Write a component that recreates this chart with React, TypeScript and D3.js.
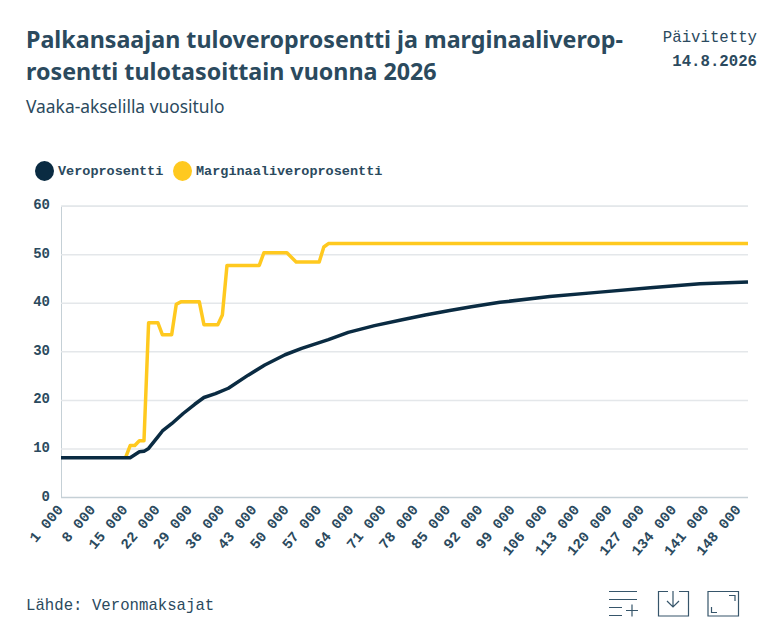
import { useEffect, useRef } from "react";
import * as d3 from "d3";

const WIDTH = 778;
const HEIGHT = 633;

const TITLE_LINES = [
  "Palkansaajan tuloveroprosentti ja marginaaliverop-",
  "rosentti tulotasoittain vuonna 2026",
];
const SUBTITLE = "Vaaka-akselilla vuositulo";
const SOURCE = "Lähde: Veronmaksajat";
const UPDATED_LABEL = "Päivitetty";
const UPDATED_DATE = "14.8.2026";

const SERIES_NAMES = ["Veroprosentti", "Marginaaliveroprosentti"];
const SERIES_COLORS = ["#0a2b42", "#ffc91f"];

const yTicks = [0, 10, 20, 30, 40, 50, 60];
const xTicks = [
  1000, 8000, 15000, 22000, 29000, 36000, 43000, 50000, 57000, 64000, 71000,
  78000, 85000, 92000, 99000, 106000, 113000, 120000, 127000, 134000, 141000,
  148000,
];

// Values (income, percent)
const taxIncome = [
  1000, 16000, 18000, 19000, 20000, 22000, 23000, 25000, 27500, 30000, 32000,
  34500, 37300, 41600, 45200, 49600, 53200, 59000, 63300, 69000, 75000, 80000,
  85300, 90000, 96200, 107000, 117900, 128800, 139600, 150000,
];
const taxRate = [
  8.1, 8.1, 9.3, 9.4, 10, 12.4, 13.6, 15.1, 17.2, 19.1, 20.5, 21.3, 22.4, 25.1,
  27.2, 29.3, 30.6, 32.4, 33.9, 35.3, 36.5, 37.5, 38.4, 39.2, 40.1, 41.3, 42.2,
  43.1, 43.9, 44.3,
];
const marginalIncome = [
  15000, 16000, 17000, 18000, 19000, 20000, 22000, 23000, 25000, 26000, 27000,
  31000, 32000, 35000, 36000, 37000, 44000, 45000, 50000, 52000, 57000, 58000,
  59000, 150000,
];
const marginalRate = [
  8.1, 10.6, 10.6, 11.6, 11.6, 35.9, 35.9, 33.4, 33.4, 39.7, 40.2, 40.2, 35.5,
  35.5, 37.5, 47.7, 47.7, 50.3, 50.3, 48.4, 48.4, 51.5, 52.2, 52.2,
];

const SANS = "'Noto Sans', sans-serif";
const MONO = "'Liberation Mono', monospace";
const TEXT = "#2b4a5e";
const GRID = "#e4e7ea";
const AXIS = "#c5d0d6";

const margin = { top: 205.7, right: 30, bottom: 136, left: 61 };

export default function App() {
  const ref = useRef<SVGSVGElement | null>(null);

  useEffect(() => {
    const svg = d3.select(ref.current);
    svg.selectAll("*").remove();

    const x = d3
      .scaleLinear()
      .domain([1000, 150000])
      .range([margin.left, WIDTH - margin.right]);
    const y = d3
      .scaleLinear()
      .domain([0, 60])
      .range([HEIGHT - margin.bottom, margin.top]);

    // Heading
    TITLE_LINES.forEach((t, i) => {
      svg
        .append("text")
        .attr("x", 26)
        .attr("y", 48 + i * 32)
        .attr("font-family", SANS)
        .attr("font-weight", 700)
        .attr("font-size", 23.25)
        .attr("fill", TEXT)
        .text(t);
    });
    svg
      .append("text")
      .attr("x", 26)
      .attr("y", 113)
      .attr("font-family", SANS)
      .attr("font-size", 17.4)
      .attr("fill", TEXT)
      .text(SUBTITLE);
    svg
      .append("text")
      .attr("x", 757)
      .attr("y", 42)
      .attr("text-anchor", "end")
      .attr("font-family", MONO)
      .attr("font-size", 15.7)
      .attr("fill", TEXT)
      .text(UPDATED_LABEL);
    svg
      .append("text")
      .attr("x", 757)
      .attr("y", 66)
      .attr("text-anchor", "end")
      .attr("font-family", MONO)
      .attr("font-weight", 700)
      .attr("font-size", 15.7)
      .attr("fill", TEXT)
      .text(UPDATED_DATE);

    // Legend
    const legendX = [44.5, 182.5];
    SERIES_NAMES.forEach((name, i) => {
      svg
        .append("ellipse")
        .attr("cx", legendX[i])
        .attr("cy", 171)
        .attr("rx", 9.5)
        .attr("ry", 10)
        .attr("fill", SERIES_COLORS[i]);
      svg
        .append("text")
        .attr("x", legendX[i] + 13.5)
        .attr("y", 175)
        .attr("font-family", MONO)
        .attr("font-weight", 700)
        .attr("font-size", 13.5)
        .attr("fill", TEXT)
        .text(name);
    });

    // Y axis and grid
    const yAxis = svg
      .append("g")
      .attr("transform", `translate(${margin.left},0)`)
      .call(
        d3
          .axisLeft(y)
          .tickValues(yTicks)
          .tickSize(-(WIDTH - margin.left - margin.right))
          .tickPadding(11),
      );
    yAxis.select(".domain").attr("stroke", AXIS);
    yAxis
      .selectAll(".tick line")
      .attr("stroke", (d) => (d === 0 ? AXIS : GRID))
      .attr("stroke-width", 1.5);
    yAxis
      .selectAll("text")
      .attr("font-family", MONO)
      .attr("font-weight", 700)
      .attr("font-size", 14)
      .attr("fill", TEXT)
      .attr("dy", "0.22em");

    // X axis
    const xAxis = svg
      .append("g")
      .attr("transform", `translate(0,${HEIGHT - margin.bottom})`)
      .call(
        d3
          .axisBottom(x)
          .tickValues(xTicks)
          .tickSize(0)
          .tickFormat((d) => d3.format(",")(d as number).replace(",", " ")),
      );
    xAxis.select(".domain").remove();
    xAxis
      .selectAll("text")
      .attr("font-family", MONO)
      .attr("font-weight", 700)
      .attr("font-size", 14.5)
      .attr("fill", TEXT)
      .attr("text-anchor", "end")
      .attr("dy", 0)
      .attr("transform", "translate(0,11) rotate(-50)");

    // Lines
    const line = d3
      .line<[number, number]>()
      .x((d) => x(d[0]))
      .y((d) => y(d[1]));
    const lines: [number, number][][] = [
      d3.zip(marginalIncome, marginalRate) as [number, number][],
      d3.zip(taxIncome, taxRate) as [number, number][],
    ];
    [SERIES_COLORS[1], SERIES_COLORS[0]].forEach((color) => {
      svg
        .append("path")
        .attr("d", line(lines[color === SERIES_COLORS[1] ? 0 : 1]))
        .attr("fill", "none")
        .attr("stroke", color)
        .attr("stroke-width", 3.5)
        .attr("stroke-linejoin", "round");
    });

    // Source
    svg
      .append("text")
      .attr("x", 26)
      .attr("y", 610)
      .attr("font-family", MONO)
      .attr("font-size", 15.7)
      .attr("fill", TEXT)
      .text(SOURCE);

    // Toolbar icons
    const icons = svg
      .append("g")
      .attr("fill", "none")
      .attr("stroke", "#36556a")
      .attr("stroke-width", 1.2);
    icons.append("path").attr("d", "M609 591.5H637M609 599.5H637M609 607.5H622M609 615.5H622M626 610.5H638M632 604.5V616.5");
    icons.append("path").attr("d", "M668 591.5H658.5V616H688.5V591.5H679M673 591V607M667 601L673 607L679 601");
    icons.append("path").attr("d", "M708 591.5H738.5V616H708ZM729 595.5H735V601M711.5 607V612.5H717");
  }, []);

  return (
    <svg
      ref={ref}
      width={WIDTH}
      height={HEIGHT}
      style={{ position: "absolute", left: 0, top: 0, display: "block" }}
    />
  );
}
